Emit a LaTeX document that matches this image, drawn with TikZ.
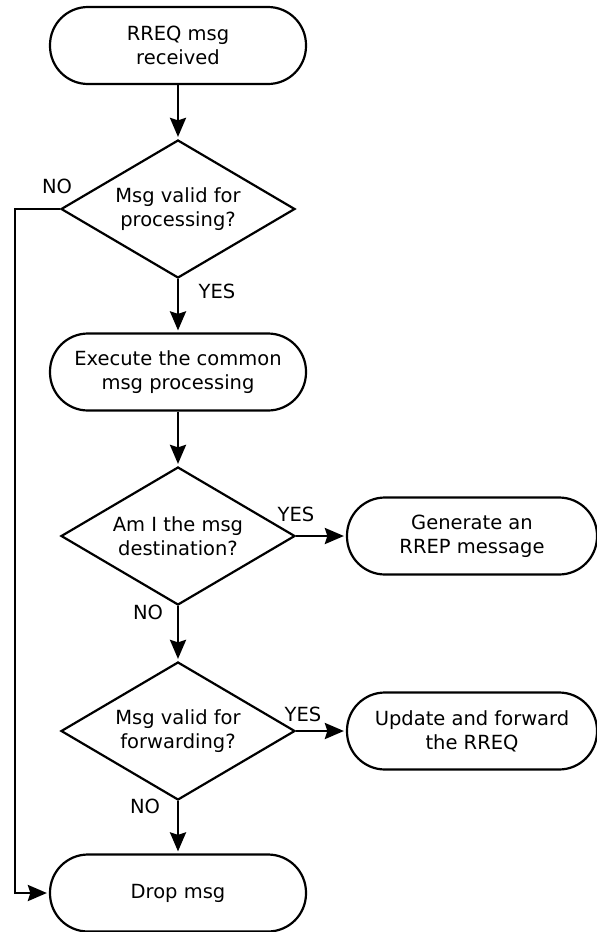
\documentclass[tikz,border=0pt]{standalone}
\usepackage{fontspec}
\setmainfont{DejaVu Sans}
\usetikzlibrary{shapes.geometric,arrows.meta}
\begin{document}
\begin{tikzpicture}[x=1pt,y=-1pt,
  every node/.style={font=\fontsize{19.5}{24}\selectfont},
  term/.style={draw,line width=2.2pt,rounded corners=38pt,minimum width=256pt,minimum height=77pt,align=center,inner sep=0pt},
  decision/.style={draw,diamond,line width=2.2pt,aspect=1.696,minimum width=234pt,minimum height=138pt,align=center,inner sep=0pt},
  flow/.style={line width=2.6pt,-{Stealth[length=19pt,width=16pt,inset=2.5pt]},shorten >=2pt},
  lbl/.style={inner sep=0pt}]
\useasboundingbox (0,0) rectangle (597,932);
% main column
\node[term] (start) at (178,45.5) {RREQ msg\\received};
\node[decision] (valid) at (178,209) {Msg valid for\\processing?};
\node[term] (common) at (178,372) {Execute the common\\msg processing};
\node[decision] (dest) at (178,536) {Am I the msg\\destination?};
\node[decision] (fwd) at (178,731) {Msg valid for\\forwarding?};
\node[term] (drop) at (178,893) {Drop msg};
% side outcomes
\node[term,minimum width=250pt] (rrep) at (472,536) {Generate an\\RREP message};
\node[term,minimum width=250pt] (update) at (472,731) {Update and forward\\the RREQ};
% connectors
\draw[flow] (start) -- (valid);
\draw[flow] (valid) -- (common);
\draw[flow] (common) -- (dest);
\draw[flow] (dest) -- (fwd);
\draw[flow] (fwd) -- (drop);
\draw[flow] (dest.east) -- (rrep.west);
\draw[flow] (fwd.east) -- (update.west);
\coordinate (bend) at (15,209);
\draw[flow] (valid.west) -- (bend) |- (drop.west);
% branch labels
\node[lbl] at (57,186) {NO};
\node[lbl] at (217,291) {YES};
\node[lbl] at (296,514) {YES};
\node[lbl] at (148,612) {NO};
\node[lbl] at (303,714) {YES};
\node[lbl] at (145,806) {NO};
\end{tikzpicture}
\end{document}
